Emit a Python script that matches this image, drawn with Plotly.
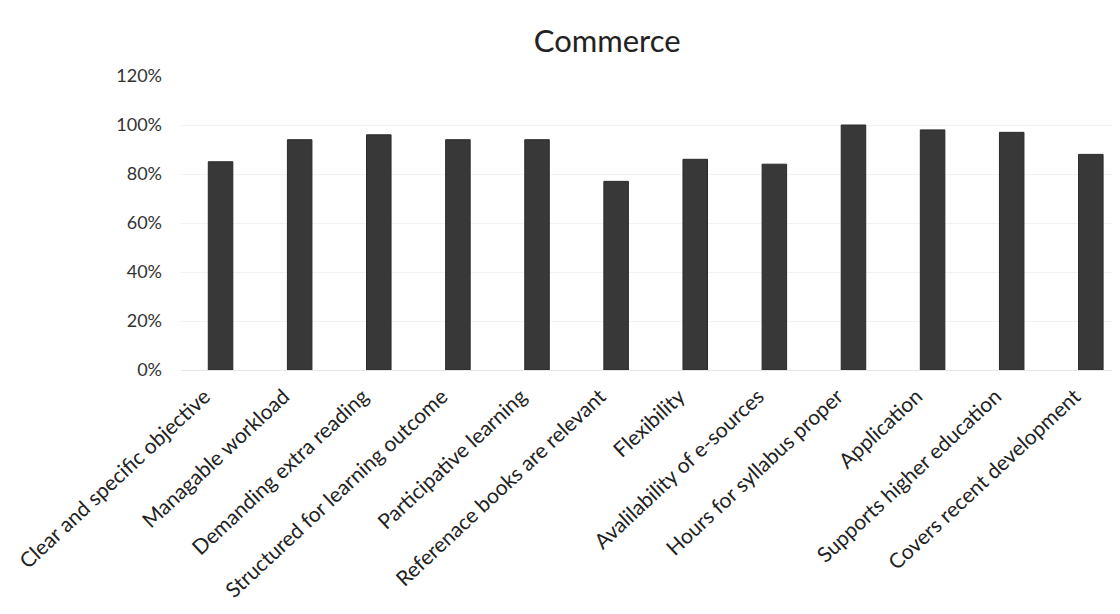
import plotly.graph_objects as go

categories = [
    "Clear and specific objective",
    "Managable workload",
    "Demanding extra reading",
    "Structured for learning outcome",
    "Participative learning",
    "Referenace books are relevant",
    "Flexibility",
    "Avalilability of e-sources",
    "Hours for syllabus proper",
    "Application",
    "Supports higher education",
    "Covers recent development",
]
values = [0.85, 0.94, 0.96, 0.94, 0.94, 0.77, 0.86, 0.84, 1.00, 0.98, 0.97, 0.88]
y_ticks = [0, 0.2, 0.4, 0.6, 0.8, 1.0, 1.2]

fig = go.Figure(
    go.Bar(
        x=categories,
        y=values,
        marker=dict(color="#383838", line=dict(color="#2a2a2a", width=1)),
    )
)

fig.update_layout(
    width=1120,
    height=614,
    paper_bgcolor="white",
    plot_bgcolor="white",
    bargap=0.69,
    showlegend=False,
    title=dict(
        text="Commerce",
        x=0.535,
        xanchor="center",
        y=0.946,
        yanchor="middle",
        font=dict(family="Lato", size=31, color="#222222"),
    ),
    margin=dict(l=173, r=0, t=68, b=252),
    font=dict(family="Lato", color="#333333"),
)

fig.update_xaxes(
    tickangle=-43,
    tickfont=dict(family="Lato", size=21, color="#222222"),
    showline=True,
    linecolor="#e6e6e6",
    ticks="",
    range=[-0.5, 11.47],
    ticklabelshift=-16,
    ticklabelstandoff=5,
)
fig.update_yaxes(
    range=[0, 1.2],
    tickvals=y_ticks,
    tickformat=".0%",
    tickfont=dict(family="Lato", size=18, color="#333333"),
    showgrid=True,
    gridcolor="#f2f2f2",
    zeroline=False,
    ticks="",
    ticklabelstandoff=18,
)

fig.write_html("out.html")
